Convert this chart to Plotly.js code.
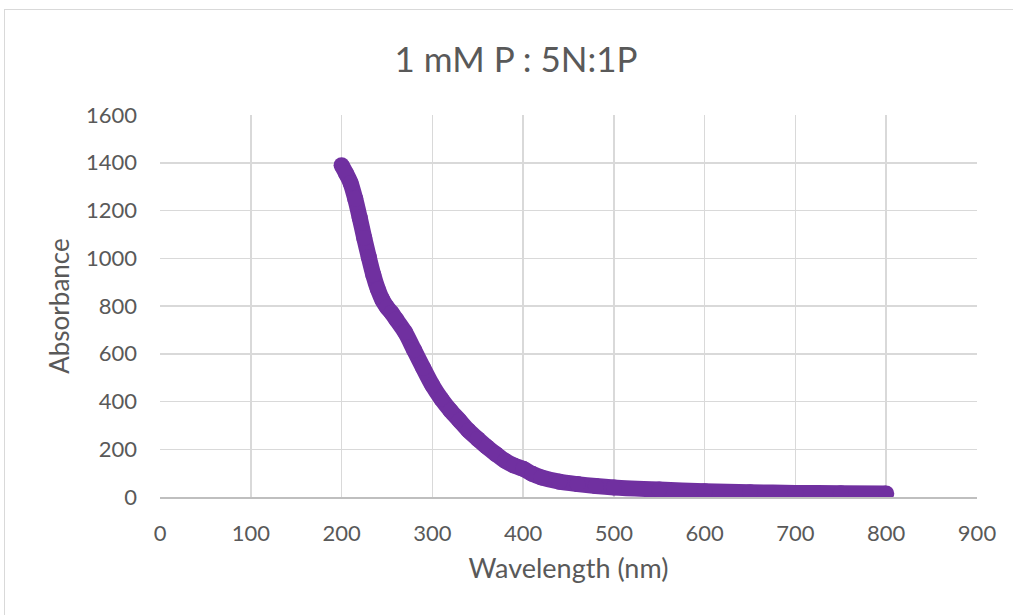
<!DOCTYPE html>
<html>
<head>
<meta charset="utf-8">
<script src="https://cdn.plot.ly/plotly-3.0.1.min.js"></script>
<style>
  html, body { margin: 0; padding: 0; background: #ffffff; overflow: hidden; }
  #chart { position: absolute; left: 0; top: 0; width: 1013px; height: 615px; }
  #frame { position: absolute; left: 4px; top: 9px; width: 1100px; height: 700px;
           border: 1.5px solid #d9d9d9; pointer-events: none; box-sizing: border-box; }
</style>
</head>
<body>
<div id="chart"></div>
<div id="frame"></div>
<script>
// Wavelength (nm)
const wavelength = [200, 205, 210, 215, 220, 225, 230, 235, 240, 245, 250, 255, 260, 270, 280, 290,
                    300, 310, 320, 330, 340, 350, 360, 370, 380, 390, 400, 410, 420, 440, 460, 480,
                    500, 550, 600, 650, 700, 750, 800];
// Absorbance
const absorbance = [1390, 1355, 1315, 1250, 1170, 1085, 1005, 930, 870, 825, 795, 772, 745, 690, 615, 540,
                    468, 410, 362, 320, 278, 243, 210, 180, 152, 132, 118, 97, 82, 64, 54, 46,
                    40, 31, 24, 20, 17, 16, 15];

const titleText = '1 mM P : 5N:1P';
const xTitle = 'Wavelength (nm)';
const yTitle = 'Absorbance';
const purple = '#7030A0';
const textColor = '#595959';
const fontFam = 'Lato, "Open Sans", "Liberation Sans", sans-serif';

const trace = {
  x: wavelength,
  y: absorbance,
  type: 'scatter',
  mode: 'lines+markers',
  line: { color: purple, width: 16, shape: 'spline', smoothing: 0.8 },
  marker: { color: purple, size: 16 },
  hoverinfo: 'x+y'
};

const layout = {
  width: 1013,
  height: 615,
  margin: { l: 160, r: 36, t: 115, b: 118, pad: 0 },
  paper_bgcolor: '#ffffff',
  plot_bgcolor: '#ffffff',
  showlegend: false,
  font: { family: fontFam, color: textColor, size: 22 },
  title: {
    text: titleText,
    font: { family: fontFam, size: 35, color: textColor },
    x: 516 / 1013, xref: 'container', xanchor: 'center',
    y: 1 - 60 / 615, yref: 'container', yanchor: 'middle'
  },
  xaxis: {
    range: [0, 900],
    dtick: 100,
    tick0: 0,
    showgrid: true,
    gridcolor: '#d9d9d9',
    gridwidth: 1.5,
    zeroline: false,
    showline: true,
    linecolor: '#bfbfbf',
    linewidth: 1.5,
    mirror: false,
    ticks: '',
    ticklabelstandoff: 16,
    tickfont: { family: fontFam, size: 22, color: textColor },
    title: { text: xTitle, font: { family: fontFam, size: 27, color: textColor }, standoff: 14 },
    fixedrange: true
  },
  yaxis: {
    range: [0, 1600],
    dtick: 200,
    tick0: 0,
    showgrid: true,
    gridcolor: '#d9d9d9',
    gridwidth: 1.5,
    zeroline: false,
    showline: false,
    ticks: '',
    ticklabelstandoff: 22,
    tickfont: { family: fontFam, size: 22, color: textColor },
    title: { text: yTitle, font: { family: fontFam, size: 26, color: textColor }, standoff: 8 },
    fixedrange: true
  }
};

Plotly.newPlot('chart', [trace], layout, { displayModeBar: false, staticPlot: true });
</script>
</body>
</html>
